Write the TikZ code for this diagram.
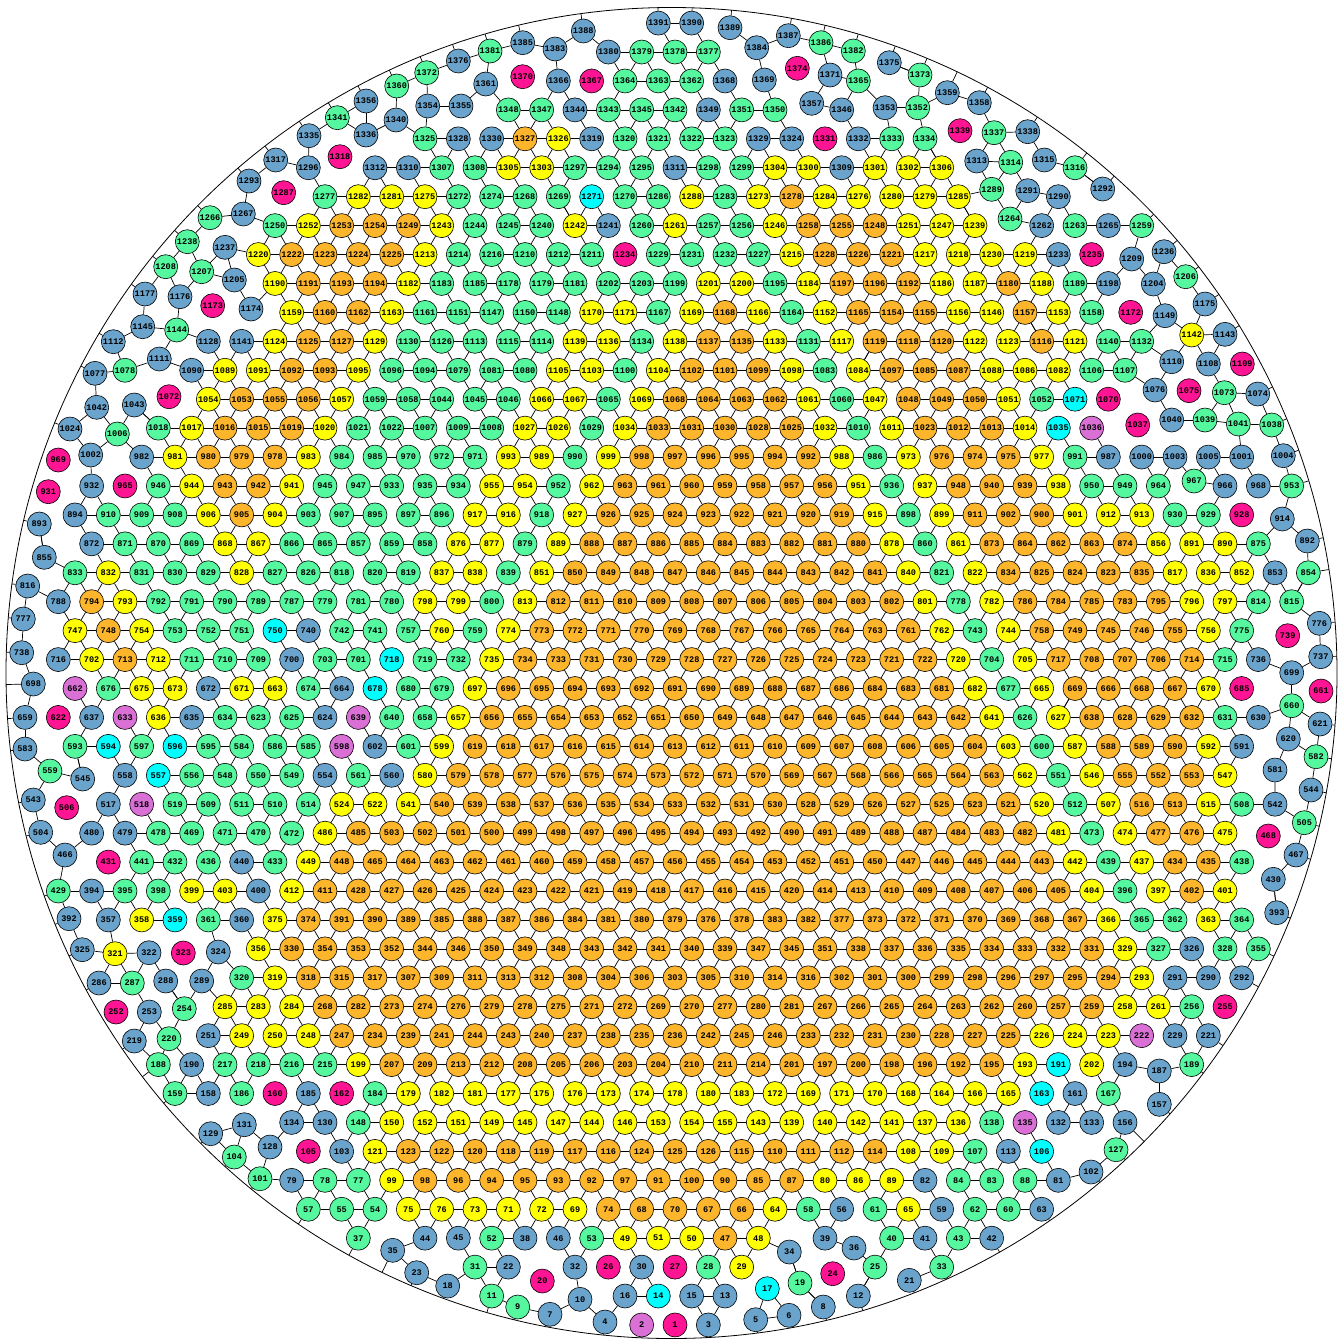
\documentclass[tikz,border=0pt]{standalone}
\usepackage{fontspec}
\setmonofont{Liberation Mono}
\usetikzlibrary{calc}

\definecolor{colo}{HTML}{FDB62C}
\definecolor{coly}{HTML}{FFFF00}
\definecolor{colg}{HTML}{55F89E}
\definecolor{colb}{HTML}{6AA3CB}
\definecolor{colc}{HTML}{00FFFF}
\definecolor{colm}{HTML}{DA70D6}
\definecolor{colp}{HTML}{FF1493}

% number of contacts for each fill colour
\def\pkdego{6}\def\pkdegy{5}\def\pkdegg{4}\def\pkdegb{3}
\def\pkdegc{2}\def\pkdegm{1}\def\pkdegp{0}

\newcommand\pkDec[1]{\expandafter\xdef\csname pkcap#1\endcsname{\the\numexpr\csname pkcap#1\endcsname-1\relax}}

% disc: label, colour letter, x, y
\newcommand\pkNode[4]{%
  \edef\pklab{#1}%
  \edef\pkcmd{\noexpand\node[ball=#2] (n\pklab) at (#3,#4) {\pklab};}%
  \pkcmd
  \expandafter\xdef\csname pkx\pklab\endcsname{#3}%
  \expandafter\xdef\csname pky\pklab\endcsname{#4}%
  \expandafter\xdef\csname pkcap\pklab\endcsname{\csname pkdeg#2\endcsname}%
  \pgfmathtruncatemacro\pkbi{#3/40}%
  \pgfmathtruncatemacro\pkbj{#4/40}%
  \ifcsname pkbk\pkbi-\pkbj\endcsname
    \expandafter\xdef\csname pkbk\pkbi-\pkbj\endcsname{\csname pkbk\pkbi-\pkbj\endcsname,\pklab}%
  \else
    \expandafter\xdef\csname pkbk\pkbi-\pkbj\endcsname{\pklab}%
  \fi
  \pgfmathsetmacro\pkrad{veclen((#3-671.5)/100,(#4-673)/100)}%
  \ifdim\pkrad pt>6.38pt
    \ifnum\csname pkcap\pklab\endcsname>0\relax
      \coordinate (w\pklab) at ($(wallc)!665.5pt!(n\pklab.center)$);
      \draw[link] (n\pklab) -- (w\pklab);
      \pkDec{\pklab}%
    \fi
  \fi
}

% one row of the packing: row number, list of column/label/colour
\newcommand\prow[2]{%
  \foreach \c/\l/\t in {#2}{%
    \pgfmathsetmacro\px{25+16.66667*\c}%
    \pgfmathsetmacro\py{23.1+28.93*#1}%
    \pkNode{\l}{\t}{\px}{\py}%
  }%
}

\newcommand\pkTry[3]{%
  \ifnum\csname pkcap#1\endcsname>0\relax
  \ifnum\csname pkcap#2\endcsname>0\relax
    \edef\pkxa{\csname pkx#1\endcsname}\edef\pkya{\csname pky#1\endcsname}%
    \edef\pkxb{\csname pkx#2\endcsname}\edef\pkyb{\csname pky#2\endcsname}%
    \pgfmathsetmacro\pkdist{veclen((\pkxa-\pkxb)/10,(\pkya-\pkyb)/10)}%
    \ifdim\pkdist pt<#3pt
      \draw[link] (n#1) -- (n#2);
      \pkDec{#1}\pkDec{#2}%
    \fi
  \fi\fi
}

% contacts between discs closer than #1 (tens of px)
\newcommand\pkLinks[1]{%
  \foreach \pka in {1,...,1391}{%
    \ifcsname pkcap\pka\endcsname
      \ifnum\csname pkcap\pka\endcsname>0\relax
        \edef\pkax{\csname pkx\pka\endcsname}\edef\pkay{\csname pky\pka\endcsname}%
        \pgfmathtruncatemacro\pkai{\pkax/40}%
        \pgfmathtruncatemacro\pkaj{\pkay/40}%
        \foreach \pkdi in {-1,0,1}{%
          \foreach \pkdj in {-1,0,1}{%
            \pgfmathtruncatemacro\pkbi{\pkai+\pkdi}%
            \pgfmathtruncatemacro\pkbj{\pkaj+\pkdj}%
            \ifcsname pkbk\pkbi-\pkbj\endcsname
              \edef\pklist{\csname pkbk\pkbi-\pkbj\endcsname}%
              \foreach \pkb in \pklist {%
                \ifnum\pkb>\pka\relax \pkTry{\pka}{\pkb}{#1}\fi
              }%
            \fi
          }%
        }%
      \fi
    \fi
  }%
}

\begin{document}
\begin{tikzpicture}[x=1pt, y=-1pt,
    ball/.style={circle, draw=black, line width=0.6pt, fill=col#1, minimum size=24pt, inner sep=0pt, text=black, font=\ttfamily\bfseries\fontsize{8.6}{9}\selectfont},
    link/.style={draw=black, line width=0.7pt},
    wall/.style={draw=black, line width=0.8pt}
]
\useasboundingbox (0,0) rectangle (1340,1339);
\coordinate (wallc) at (671.5,673);
\draw[wall] (wallc) circle[radius=665.5pt];

% lattice rows, top to bottom
\prow{0}{38/1391/b,40/1390/b}
\prow{1}{35/1380/b,37/1379/g,39/1378/g,41/1377/g}
\prow{2}{32/1366/b,34/1367/p,36/1364/g,38/1363/g,40/1362/g,42/1368/b,50/1365/g}
\prow{3}{29/1348/g,31/1347/g,33/1344/b,35/1343/g,37/1345/g,39/1342/g,41/1349/b,43/1351/g,45/1350/g,49/1346/b}
\prow{4}{24/1325/g,26/1328/b,28/1330/b,30/1327/o,32/1326/y,34/1319/b,36/1320/g,38/1321/g,40/1322/g,42/1323/g,44/1329/b,46/1324/b,48/1331/p,50/1332/b,52/1333/g,54/1334/g}
\prow{5}{17/1296/b,21/1312/b,23/1310/b,25/1307/g,27/1308/g,29/1305/y,31/1303/y,33/1297/g,35/1294/g,37/1295/g,39/1311/b,41/1298/g,43/1299/g,45/1304/y,47/1300/y,49/1309/b,51/1301/y,53/1302/y,55/1306/y,63/1316/g}
\prow{6}{18/1277/g,20/1282/y,22/1281/y,24/1275/y,26/1272/g,28/1274/g,30/1268/g,32/1269/g,34/1271/c,36/1270/g,38/1286/g,40/1288/y,42/1283/g,44/1273/y,46/1278/o,48/1284/y,50/1276/y,52/1280/y,54/1279/y,56/1285/y,62/1290/b}
\prow{7}{15/1250/g,17/1252/y,19/1253/o,21/1254/o,23/1249/o,25/1243/y,27/1244/g,29/1245/g,31/1240/g,33/1242/y,35/1241/b,37/1260/g,39/1261/y,41/1257/g,43/1256/g,45/1246/y,47/1258/o,49/1255/o,51/1248/o,53/1251/y,55/1247/y,57/1239/y,61/1262/b,63/1263/g,65/1265/b,67/1259/g}
\prow{8}{14/1220/y,16/1222/o,18/1223/o,20/1224/o,22/1225/o,24/1213/y,26/1214/g,28/1216/g,30/1210/g,32/1212/g,34/1211/g,36/1234/p,38/1229/g,40/1231/g,42/1232/g,44/1227/g,46/1215/y,48/1228/o,50/1226/o,52/1221/o,54/1217/y,56/1218/y,58/1230/y,60/1219/y,62/1233/b,64/1235/p}
\prow{9}{15/1190/y,17/1191/o,19/1193/o,21/1194/o,23/1182/y,25/1183/g,27/1185/g,29/1178/g,31/1179/g,33/1181/g,35/1202/g,37/1203/g,39/1199/g,41/1201/y,43/1200/y,45/1195/g,47/1184/y,49/1197/o,51/1196/o,53/1192/o,55/1186/y,57/1187/y,59/1180/o,61/1188/y,63/1189/g,65/1198/b}
\prow{10}{16/1159/y,18/1160/o,20/1162/o,22/1163/y,24/1161/g,26/1151/g,28/1147/g,30/1150/g,32/1148/g,34/1170/y,36/1171/y,38/1167/g,40/1169/y,42/1168/o,44/1166/y,46/1164/g,48/1152/y,50/1165/o,52/1154/o,54/1155/o,56/1156/y,58/1146/y,60/1157/o,62/1153/y,64/1158/g}
\prow{11}{11/1128/b,13/1141/b,15/1124/y,17/1125/o,19/1127/o,21/1129/y,23/1130/g,25/1126/g,27/1113/g,29/1115/g,31/1114/g,33/1139/y,35/1136/y,37/1134/g,39/1138/y,41/1137/o,43/1135/o,45/1133/y,47/1131/g,49/1117/y,51/1119/o,53/1118/o,55/1120/o,57/1122/y,59/1123/y,61/1116/o,63/1121/y,65/1140/g,67/1132/g}
\prow{12}{6/1078/g,10/1090/b,12/1089/y,14/1091/y,16/1092/o,18/1093/o,20/1095/y,22/1096/g,24/1094/g,26/1079/g,28/1081/g,30/1080/g,32/1105/y,34/1103/y,36/1100/g,38/1104/y,40/1102/o,42/1101/o,44/1099/o,46/1098/y,48/1083/g,50/1084/y,52/1097/o,54/1085/o,56/1087/o,58/1088/y,60/1086/y,62/1082/y,64/1106/g,66/1107/g}
\prow{13}{11/1054/y,13/1053/o,15/1055/o,17/1056/o,19/1057/y,21/1059/g,23/1058/g,25/1044/g,27/1045/g,29/1046/g,31/1066/y,33/1067/y,35/1065/g,37/1069/y,39/1068/o,41/1064/o,43/1063/o,45/1062/o,47/1061/y,49/1060/g,51/1047/y,53/1048/o,55/1049/o,57/1050/o,59/1051/y,61/1052/g,63/1071/c,65/1070/p}
\prow{14}{8/1018/g,10/1017/y,12/1016/o,14/1015/o,16/1019/o,18/1020/y,20/1021/g,22/1022/g,24/1007/g,26/1009/g,28/1008/g,30/1027/y,32/1026/y,34/1029/g,36/1034/y,38/1033/o,40/1031/o,42/1030/o,44/1028/o,46/1025/o,48/1032/y,50/1010/g,52/1011/y,54/1023/o,56/1012/o,58/1013/o,60/1014/y,62/1035/c,64/1036/m}
\prow{15}{7/982/b,9/981/y,11/980/o,13/979/o,15/978/o,17/983/y,19/984/g,21/985/g,23/970/g,25/972/g,27/971/g,29/993/y,31/989/y,33/990/g,35/999/y,37/998/o,39/997/o,41/996/o,43/995/o,45/994/o,47/992/o,49/988/y,51/986/g,53/973/y,55/976/o,57/974/o,59/975/o,61/977/y,63/991/g,65/987/b,67/1000/b,69/1003/b,71/1005/b,73/1001/b}
\prow{16}{4/932/b,6/965/p,8/946/g,10/944/y,12/943/o,14/942/o,16/941/y,18/945/g,20/947/g,22/933/g,24/935/g,26/934/g,28/955/y,30/954/y,32/952/g,34/962/y,36/963/o,38/961/o,40/960/o,42/959/o,44/958/o,46/957/o,48/956/o,50/951/y,52/936/g,54/937/y,56/948/o,58/940/o,60/939/o,62/938/y,64/950/g,66/949/g,68/964/g,72/966/b,74/968/b,76/953/g}
\prow{17}{3/894/b,5/910/g,7/909/g,9/908/g,11/906/y,13/905/o,15/904/y,17/903/g,19/907/g,21/895/g,23/897/g,25/896/g,27/917/y,29/916/y,31/918/g,33/927/y,35/926/o,37/925/o,39/924/o,41/923/o,43/922/o,45/921/o,47/920/o,49/919/o,51/915/y,53/898/g,55/899/y,57/911/o,59/902/o,61/900/o,63/901/y,65/912/y,67/913/y,69/930/g,71/929/g,73/928/p}
\prow{18}{4/872/b,6/871/g,8/870/g,10/869/g,12/868/y,14/867/y,16/866/g,18/865/g,20/857/g,22/859/g,24/858/g,26/876/y,28/877/y,30/879/g,32/889/y,34/888/o,36/887/o,38/886/o,40/885/o,42/884/o,44/883/o,46/882/o,48/881/o,50/880/o,52/878/y,54/860/g,56/861/y,58/873/o,60/864/o,62/862/o,64/863/o,66/874/o,68/856/y,70/891/y,72/890/y,74/875/g}
\prow{19}{3/833/g,5/832/y,7/831/g,9/830/g,11/829/g,13/828/y,15/827/g,17/826/g,19/818/g,21/820/g,23/819/g,25/837/y,27/838/y,29/839/g,31/851/y,33/850/o,35/849/o,37/848/o,39/847/o,41/846/o,43/845/o,45/844/o,47/843/o,49/842/o,51/841/o,53/840/y,55/821/g,57/822/y,59/834/o,61/825/o,63/824/o,65/823/o,67/835/o,69/817/y,71/836/y,73/852/y,75/853/b,77/854/g}
\prow{20}{2/788/b,4/794/o,6/793/y,8/792/g,10/791/g,12/790/g,14/789/g,16/787/g,18/779/g,20/781/g,22/780/g,24/798/y,26/799/y,28/800/g,30/813/y,32/812/o,34/811/o,36/810/o,38/809/o,40/808/o,42/807/o,44/806/o,46/805/o,48/804/o,50/803/o,52/802/o,54/801/y,56/778/g,58/782/y,60/786/o,62/784/o,64/785/o,66/783/o,68/795/o,70/796/y,72/797/y,74/814/g,76/815/g}
\prow{21}{3/747/y,5/748/o,7/754/y,9/753/g,11/752/g,13/751/g,15/750/c,17/740/b,19/742/g,21/741/g,23/757/g,25/760/y,27/759/g,29/774/y,31/773/o,33/772/o,35/771/o,37/770/o,39/769/o,41/768/o,43/767/o,45/766/o,47/765/o,49/764/o,51/763/o,53/761/o,55/762/y,57/743/g,59/744/y,61/758/o,63/749/o,65/745/o,67/746/o,69/755/o,71/756/y,73/775/g}
\prow{22}{2/716/b,4/702/y,6/713/o,8/712/y,10/711/g,12/710/g,14/709/g,16/700/b,18/703/g,20/701/g,22/718/c,24/719/g,26/732/g,28/735/y,30/734/o,32/733/o,34/731/o,36/730/o,38/729/o,40/728/o,42/727/o,44/726/o,46/725/o,48/724/o,50/723/o,52/721/o,54/722/o,56/720/y,58/704/g,60/705/y,62/717/o,64/708/o,66/707/o,68/706/o,70/714/o,72/715/g,74/736/b}
\prow{23}{3/662/m,5/676/g,7/675/y,9/673/y,11/672/b,13/671/y,15/663/y,17/674/g,19/664/b,21/678/c,23/680/g,25/679/g,27/697/y,29/696/o,31/695/o,33/694/o,35/693/o,37/692/o,39/691/o,41/690/o,43/689/o,45/688/o,47/687/o,49/686/o,51/684/o,53/683/o,55/681/o,57/682/y,59/677/g,61/665/y,63/669/o,65/666/o,67/668/o,69/667/o,71/670/y,73/685/p}
\prow{24}{0/659/b,2/622/p,4/637/b,6/633/m,8/636/y,10/635/b,12/634/g,14/623/g,16/625/g,18/624/b,20/639/m,22/640/g,24/658/g,26/657/y,28/656/o,30/655/o,32/654/o,34/653/o,36/652/o,38/651/o,40/650/o,42/649/o,44/648/o,46/647/o,48/646/o,50/645/o,52/644/o,54/643/o,56/642/o,58/641/y,60/626/g,62/627/y,64/638/o,66/628/o,68/629/o,70/632/o,72/631/g,74/630/b}
\prow{25}{3/593/g,5/594/c,7/597/g,9/596/c,11/595/g,13/584/g,15/586/g,17/585/g,19/598/m,21/602/b,23/601/g,25/599/y,27/619/o,29/618/o,31/617/o,33/616/o,35/615/o,37/614/o,39/613/o,41/612/o,43/611/o,45/610/o,47/609/o,49/607/o,51/608/o,53/606/o,55/605/o,57/604/o,59/603/y,61/600/g,63/587/y,65/588/o,67/589/o,69/590/o,71/592/y,73/591/b}
\prow{26}{6/558/b,8/557/c,10/556/g,12/548/g,14/550/g,16/549/g,18/554/b,20/561/g,22/560/b,24/580/y,26/579/o,28/578/o,30/577/o,32/576/o,34/575/o,36/574/o,38/573/o,40/572/o,42/571/o,44/570/o,46/569/o,48/567/o,50/568/o,52/566/o,54/565/o,56/564/o,58/563/o,60/562/y,62/551/g,64/546/y,66/555/o,68/552/o,70/553/o,72/547/y}
\prow{27}{5/517/b,7/518/m,9/519/g,11/509/g,13/511/g,15/510/g,17/514/g,19/524/y,21/522/y,23/541/y,25/540/o,27/539/o,29/538/o,31/537/o,33/536/o,35/535/o,37/534/o,39/533/o,41/532/o,43/531/o,45/530/o,47/528/o,49/529/o,51/526/o,53/527/o,55/525/o,57/523/o,59/521/o,61/520/y,63/512/g,65/507/y,67/516/o,69/513/o,71/515/y,73/508/g,75/542/b}
\prow{28}{4/480/b,6/479/b,8/478/g,10/469/g,12/471/g,14/470/g,16/472/g,18/486/y,20/485/o,22/503/o,24/502/o,26/501/o,28/500/o,30/499/o,32/498/o,34/497/o,36/496/o,38/495/o,40/494/o,42/493/o,44/492/o,46/490/o,48/491/o,50/489/o,52/488/o,54/487/o,56/484/o,58/483/o,60/482/o,62/481/y,64/473/g,66/474/y,68/477/o,70/476/o,72/475/y}
\prow{29}{5/431/p,7/441/g,9/432/g,11/436/g,13/440/b,15/433/g,17/449/y,19/448/o,21/465/o,23/464/o,25/463/o,27/462/o,29/461/o,31/460/o,33/459/o,35/458/o,37/457/o,39/456/o,41/455/o,43/454/o,45/453/o,47/452/o,49/451/o,51/450/o,53/447/o,55/446/o,57/445/o,59/444/o,61/443/o,63/442/y,65/439/g,67/437/y,69/434/o,71/435/o,73/438/g}
\prow{30}{2/429/g,4/394/b,6/395/g,8/398/g,10/399/y,12/403/y,14/400/b,16/412/y,18/411/o,20/428/o,22/427/o,24/426/o,26/425/o,28/424/o,30/423/o,32/422/o,34/421/o,36/419/o,38/418/o,40/417/o,42/416/o,44/415/o,46/420/o,48/414/o,50/413/o,52/410/o,54/409/o,56/408/o,58/407/o,60/406/o,62/405/o,64/404/y,66/396/g,68/397/y,70/402/o,72/401/y}
\prow{31}{5/357/b,7/358/y,9/359/c,11/361/g,13/360/b,15/375/y,17/374/o,19/391/o,21/390/o,23/389/o,25/385/o,27/388/o,29/387/o,31/386/o,33/384/o,35/381/o,37/380/o,39/379/o,41/376/o,43/378/o,45/383/o,47/382/o,49/377/o,51/373/o,53/372/o,55/371/o,57/370/o,59/369/o,61/368/o,63/367/o,65/366/y,67/365/g,69/362/g,71/363/y,73/364/g}
\prow{32}{14/356/y,16/330/o,18/354/o,20/353/o,22/352/o,24/344/o,26/346/o,28/350/o,30/349/o,32/348/o,34/343/o,36/342/o,38/341/o,40/340/o,42/339/o,44/347/o,46/345/o,48/351/o,50/338/o,52/337/o,54/336/o,56/335/o,58/334/o,60/333/o,62/332/o,64/331/o,66/329/y,68/327/g,70/326/b,72/328/g,74/355/g}
\prow{33}{13/320/g,15/319/y,17/318/o,19/315/o,21/317/o,23/307/o,25/309/o,27/311/o,29/313/o,31/312/o,33/308/o,35/304/o,37/306/o,39/303/o,41/305/o,43/310/o,45/314/o,47/316/o,49/302/o,51/301/o,53/300/o,55/299/o,57/298/o,59/296/o,61/297/o,63/295/o,65/294/o,67/293/y,69/291/b,71/290/b,73/292/b}
\prow{34}{12/285/y,14/283/y,16/284/y,18/268/o,20/282/o,22/273/o,24/274/o,26/276/o,28/279/o,30/278/o,32/275/o,34/271/o,36/272/o,38/269/o,40/270/o,42/277/o,44/280/o,46/281/o,48/267/o,50/266/o,52/265/o,54/264/o,56/263/o,58/262/o,60/260/o,62/257/o,64/259/o,66/258/y,68/261/y,70/256/g,72/255/p}
\prow{35}{11/251/b,13/249/y,15/250/y,17/248/y,19/247/o,21/234/o,23/239/o,25/241/o,27/244/o,29/243/o,31/240/o,33/237/o,35/238/o,37/235/o,39/236/o,41/242/o,43/245/o,45/246/o,47/233/o,49/232/o,51/231/o,53/230/o,55/228/o,57/227/o,59/225/o,61/226/y,63/224/y,65/223/y,67/222/m,69/229/b,71/221/b}
\prow{36}{8/188/g,10/190/b,12/217/g,14/218/g,16/216/g,18/215/g,20/199/y,22/207/o,24/209/o,26/213/o,28/212/o,30/208/o,32/205/o,34/206/o,36/203/o,38/204/o,40/210/o,42/211/o,44/214/o,46/201/o,48/197/o,50/200/o,52/198/o,54/196/o,56/192/o,58/195/o,60/193/y,62/191/c,64/202/y,66/194/b,70/189/g}
\prow{37}{9/159/g,11/158/b,13/186/g,15/160/p,17/185/b,19/162/p,21/184/g,23/179/y,25/182/y,27/181/y,29/177/y,31/175/y,33/176/y,35/173/y,37/174/y,39/178/y,41/180/y,43/183/y,45/172/y,47/169/y,49/171/y,51/170/y,53/168/y,55/164/y,57/166/y,59/165/y,61/163/c,63/161/b,65/167/g}
\prow{38}{16/134/b,18/130/b,20/148/g,22/150/y,24/152/y,26/151/y,28/149/y,30/145/y,32/147/y,34/144/y,36/146/y,38/153/y,40/154/y,42/155/y,44/143/y,46/139/y,48/140/y,50/142/y,52/141/y,54/137/y,56/136/y,58/138/g,60/135/m,62/132/b,64/133/b,66/156/b}
\prow{39}{17/105/p,19/103/b,21/121/y,23/123/o,25/122/o,27/120/o,29/118/o,31/119/o,33/117/o,35/116/o,37/124/o,39/125/o,41/126/o,43/115/o,45/110/o,47/111/o,49/112/o,51/114/o,53/108/y,55/109/y,57/107/g,59/113/b,61/106/c}
\prow{40}{16/79/b,18/78/g,20/77/g,22/99/y,24/98/o,26/96/o,28/94/o,30/95/o,32/93/o,34/92/o,36/97/o,38/91/o,40/100/o,42/90/o,44/85/o,46/87/o,48/80/y,50/86/y,52/89/y,54/82/b,56/84/g,58/83/g,60/88/g,62/81/b}
\prow{41}{17/57/g,19/55/g,21/54/g,23/75/y,25/76/y,27/73/y,29/71/y,31/72/y,33/69/y,35/74/o,37/68/o,39/70/o,41/67/o,43/66/o,45/64/y,47/58/g,49/56/b,51/61/g,53/65/y,55/59/b,57/62/g,59/60/g,61/63/b}
\prow{42}{20/37/g,24/44/b,26/45/b,28/52/g,30/38/b,32/46/b,34/53/g,36/49/y,38/51/y,40/50/y,42/47/o,44/48/y,48/39/b,52/40/g,54/41/b,56/43/g,58/42/b}
\prow{43}{27/31/g,29/22/b,33/32/b,35/26/p,37/30/b,39/27/p,41/28/g,43/29/y,51/25/g,55/33/g}
\prow{44}{28/11/g,36/16/b,38/14/c,40/15/b,42/13/b,50/12/b}
\prow{45}{37/2/m,39/1/p,41/3/b}

% discs off the lattice, near the wall
\foreach \l/\t/\ox/\oy in {1389/b/730/27.7,1388/b/583.3/31,1385/b/522.7/42.7,1383/b/555/49,1384/b/756.7/47.7,1387/b/788.3/35.7,1386/g/821/42.7,1382/g/853.3/51,
  1381/g/490/51,1376/b/458.3/61,1372/g/426.7/72.7,1370/p/522.7/76.7,1374/p/797.3/68.3,1371/b/830/75,1375/b/889.3/62.7,1373/g/920/75,
  1369/b/764.3/80,1361/b/485.7/84,1360/g/396.7/86,1356/b/366/101,1359/b/947.3/92.7,1358/b/979.3/102.7,1357/b/811.7/103.3,
  1354/b/427.7/106,1355/b/461/106,1341/g/337.3/117.7,1340/b/396/120,1353/b/885/107.7,1352/g/917.7/107.7,
  1335/b/309/135.7,1336/b/366/135,1339/p/960/130.7,1337/g/994/132.7,1338/b/1027.7/131.7,
  1318/p/340/156.7,1317/b/275.7/160,1313/b/976.7/161,1314/g/1010.7/162.3,1315/b/1044.3/160,
  1293/b/249/181,1287/p/283.7/192.7,1289/g/991.7/189.3,1291/b/1027.7/190.7,1292/b/1102.7/189,
  1266/g/210/217.7,1267/b/243.3/214,1264/g/1010/219,1238/g/187.3/241.7,1237/b/225/247.3,
  1209/b/1131.7/259,1236/b/1164/251.7,
  1208/g/165.7/266.7,1207/g/201.7/271.7,1205/b/234.3/280,
  1204/b/1153.3/284,1206/g/1185.7/276.7,1177/b/145/294,1176/b/180/296.7,
  1172/p/1130.7/312.3,1149/b/1165/315.7,
  1173/p/212.7/305.7,1174/b/251/309,1175/b/1205/304,1145/b/142.7/326.7,1144/g/176.7/330,
  1142/y/1191.7/335,1143/b/1225/334.3,1111/b/159.3/359,1112/b/113.3/341.7,1077/b/95/373.3,
  1110/b/1171.7/361.7,1108/b/1208.3/364,1109/p/1242.3/364,
  1072/p/169/396.7,1042/b/96.7/407.3,1043/b/134.3/405,1076/b/1155/390,1075/p/1189/390.7,1073/g/1224.3/392.7,1074/b/1257.7/394,
  1024/b/70/429,1006/g/117.3/434,1037/p/1137.7/425,1040/b/1171.7/420,1039/g/1205/420,1041/g/1238.3/424,1038/g/1271.7/425,
  969/p/58.3/460,1002/b/90.7/455,1004/b/1283.3/455.7,931/p/48.3/491.7,967/g/1194/481,
  893/b/39.3/524,914/b/1282.3/519,892/b/1307.3/541,855/b/44.3/557.3,
  816/b/27.7/586,777/b/23.3/619,739/p/1287.7/635.7,776/b/1319.3/623.3,
  738/b/21.7/652.7,699/b/1291.7/672.7,737/b/1320.7/656.7,698/b/33.3/684,661/p/1321/691,
  660/g/1291.7/705.7,621/b/1320/724,583/b/25/749,620/b/1288.3/739,582/g/1316/756.7,
  559/g/50/771,545/b/82.7/779,581/b/1275/770,544/b/1311/790,
  543/b/33.3/800,506/p/66.7/807.7,505/g/1304.3/822.7,504/b/40.7/832.3,468/p/1268.3/836,467/b/1296/855,
  466/b/65/855,430/b/1273.3/879.3,392/b/69/918.7,393/b/1276.7/912.7,
  325/b/82.3/949.7,321/y/115/953.7,322/b/149/952.7,323/p/183.3/953,324/b/218.3/952,
  286/b/99/983,287/g/132.3/983,288/b/165.7/981,289/b/201.7/981,
  252/p/116/1012,253/b/149.3/1012,254/g/184.3/1008.7,219/b/134.3/1041,220/g/169/1038.7,
  187/b/1159.3/1071,157/b/1159.3/1104.3,129/b/210.7/1133.7,131/b/244.3/1124.7,
  104/g/234.3/1157,128/b/270/1147,127/g/1116/1149.7,101/g/260/1178.7,102/b/1091/1172,
  35/b/392.7/1250.3,34/b/789.3/1252,36/b/854/1248,
  23/b/416.7/1272.7,18/b/447.7/1286,20/p/542.3/1281,24/p/832.7/1273.7,21/b/909.3/1280.3,
  9/g/517.7/1307,7/b/550/1314.3,10/b/580/1299.3,17/c/767.3/1288.7,19/g/800/1283,8/b/823.3/1307,
  5/b/755.7/1319.7,6/b/789/1315.3,4/b/605/1322}
  {\pkNode{\l}{\t}{\ox}{\oy}}

% contacts
\pkLinks{3.5}
\pkLinks{3.9}
\end{tikzpicture}
\end{document}
